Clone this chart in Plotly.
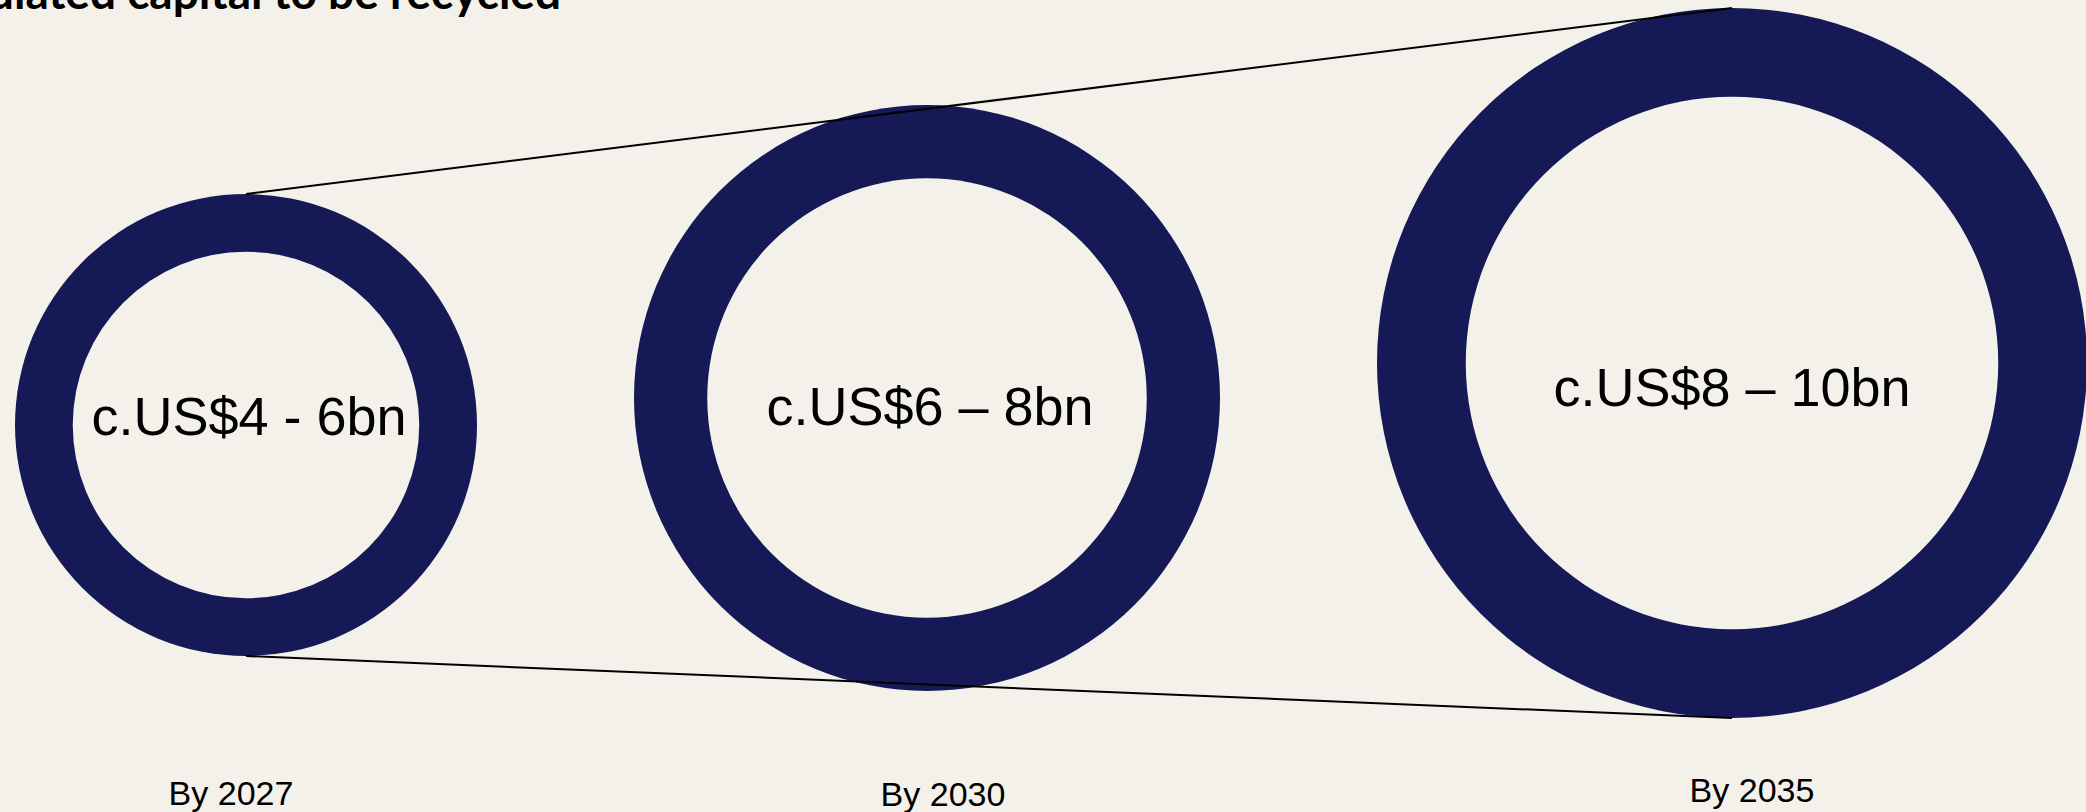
import plotly.graph_objects as go

# ---------------- data ----------------
periods = ["By 2027", "By 2030", "By 2035"]
low_bn = [4, 6, 8]
high_bn = [6, 8, 10]
range_labels = ["c.US$4 - 6bn", "c.US$6 – 8bn", "c.US$8 – 10bn"]
title_text = "Accumulated capital to be recycled"

# ---------------- canvas & style ----------------
W, H = 2086, 812
BG = "#F3F1EA"
NAVY = "#151A57"
INK = "#000000"
BODY_FONT = "Liberation Sans, Arial, Helvetica, sans-serif"
TITLE_FONT = "Lato, Liberation Sans, sans-serif"
LABEL_SIZE = 54
PERIOD_SIZE = 34
TITLE_SIZE = 46

# ring size scale: outer radius (px) grows linearly with the mid-point of each range
R_BASE = 76
R_PER_BN = 31
HOLE = 0.75          # inner radius as a share of the outer radius
LEFT_PAD = 15        # space before the first ring
GAP = 157            # space between neighbouring rings
ring_cy = [425, 398, 363]

# text placement (baselines, px from top)
label_baseline = [435, 425, 406]
label_dx = [3, 3, 0]
period_x = [231, 943, 1752]
period_baseline = [805, 806, 802]
title_right = 561
title_baseline = 9

mid_bn = [(lo + hi) / 2 for lo, hi in zip(low_bn, high_bn)]
r_outer = [R_BASE + R_PER_BN * m for m in mid_bn]
r_inner = [HOLE * r for r in r_outer]

ring_cx = []
edge = LEFT_PAD
for r in r_outer:
    ring_cx.append(edge + r)
    edge += 2 * r + GAP


# plotly puts a middle-aligned text baseline 0.25em below its anchor point,
# and a top-aligned one 0.25em above it
def middle_anchor(baselines, size):
    return [b - 0.25 * size for b in baselines]


def top_anchor(baselines, size):
    return [b + 0.25 * size for b in baselines]


shapes = []
for cx, cy, ro, ri in zip(ring_cx, ring_cy, r_outer, r_inner):
    shapes.append(dict(type="circle", xref="x", yref="y",
                       x0=cx - ro, x1=cx + ro, y0=cy - ro, y1=cy + ro,
                       fillcolor=NAVY, line=dict(width=0), layer="below"))
    shapes.append(dict(type="circle", xref="x", yref="y",
                       x0=cx - ri, x1=cx + ri, y0=cy - ri, y1=cy + ri,
                       fillcolor=BG, line=dict(width=0), layer="below"))

# connectors tying the tops and the bottoms of the first and last rings
shapes.append(dict(type="line", xref="x", yref="y",
                   x0=ring_cx[0], y0=ring_cy[0] - r_outer[0],
                   x1=ring_cx[-1], y1=ring_cy[-1] - r_outer[-1],
                   line=dict(color=INK, width=2), layer="below"))
shapes.append(dict(type="line", xref="x", yref="y",
                   x0=ring_cx[0], y0=ring_cy[0] + r_outer[0],
                   x1=ring_cx[-1], y1=ring_cy[-1] + r_outer[-1],
                   line=dict(color=INK, width=2), layer="below"))

fig = go.Figure()

# value range inside each ring
fig.add_trace(go.Scatter(
    x=[cx + d for cx, d in zip(ring_cx, label_dx)],
    y=middle_anchor(label_baseline, LABEL_SIZE),
    mode="text", text=range_labels, textposition="middle center",
    textfont=dict(family=BODY_FONT, size=LABEL_SIZE, color=INK),
    hoverinfo="skip", showlegend=False, cliponaxis=False))

# period captions under the rings
fig.add_trace(go.Scatter(
    x=period_x, y=middle_anchor(period_baseline, PERIOD_SIZE),
    mode="text", text=periods, textposition="middle center",
    textfont=dict(family=BODY_FONT, size=PERIOD_SIZE, color=INK),
    hoverinfo="skip", showlegend=False, cliponaxis=False))

# heading, running off the top edge
fig.add_trace(go.Scatter(
    x=[title_right], y=top_anchor([title_baseline], TITLE_SIZE),
    mode="text", text=["<b>" + title_text + "</b>"], textposition="top left",
    textfont=dict(family=TITLE_FONT, size=TITLE_SIZE, color=INK),
    hoverinfo="skip", showlegend=False, cliponaxis=False))

fig.update_layout(
    width=W, height=H,
    margin=dict(l=0, r=0, t=0, b=0, pad=0),
    paper_bgcolor=BG, plot_bgcolor=BG,
    showlegend=False, hovermode=False,
    shapes=shapes,
    xaxis=dict(range=[0, W], visible=False, fixedrange=True),
    yaxis=dict(range=[H, 0], visible=False, fixedrange=True),
)

fig.write_html("out.html", config={"displayModeBar": False})
